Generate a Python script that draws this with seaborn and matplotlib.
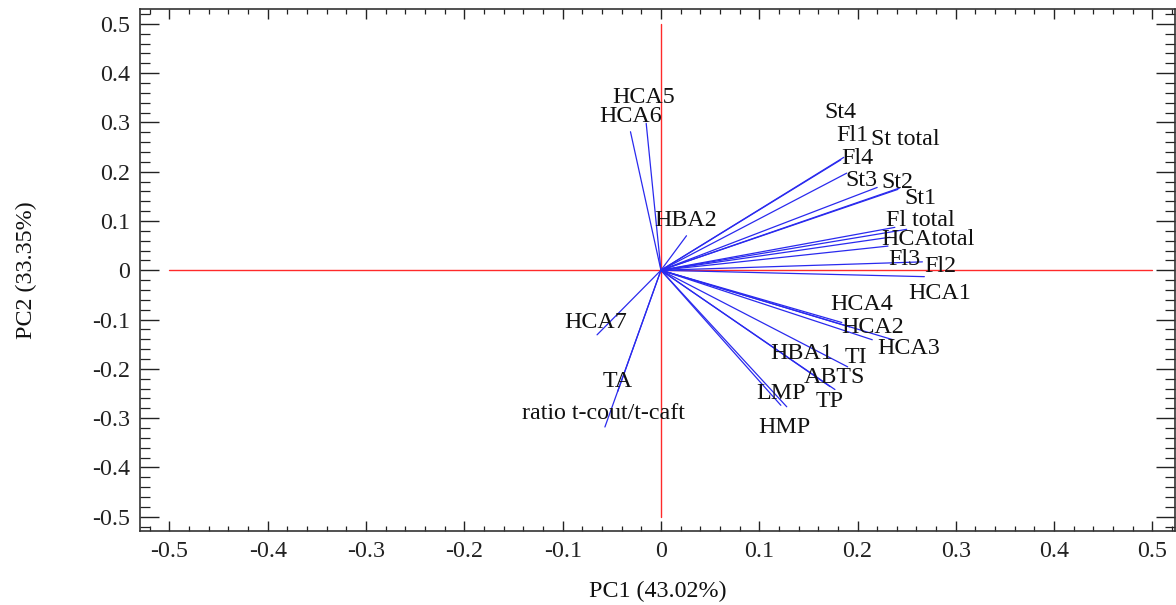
import matplotlib
matplotlib.use("Agg")
import matplotlib.pyplot as plt
import seaborn as sns
import pandas as pd
from matplotlib.ticker import MultipleLocator, FuncFormatter

# ---- data: loadings ----
variables = ["HCA5", "HCA6", "HBA2", "St4", "Fl1", "St total", "Fl4", "St3", "St2", "St1",
             "Fl total", "HCAtotal", "Fl3", "Fl2", "HCA1", "HCA4", "HCA2", "HCA3",
             "HBA1", "TI", "ABTS", "TP", "LMP", "HMP", "HCA7", "TA", "ratio t-cout/t-caft"]
pc1 = [-0.015, -0.031, 0.026, 0.186, 0.183, 0.243, 0.189, 0.220, 0.241, 0.238,
       0.250, 0.233, 0.231, 0.266, 0.268, 0.184, 0.215, 0.236,
       0.192, 0.190, 0.172, 0.177, 0.122, 0.128, -0.065, -0.044, -0.057]
pc2 = [0.298, 0.281, 0.070, 0.229, 0.224, 0.167, 0.197, 0.168, 0.164, 0.087,
       0.083, 0.067, 0.049, 0.017, -0.013, -0.106, -0.141, -0.141,
       -0.115, -0.196, -0.236, -0.242, -0.274, -0.277, -0.131, -0.246, -0.318]

# ---- layout: label anchor positions (data coords) ----
label_x = [-0.018, -0.031, 0.025, 0.183, 0.195, 0.249, 0.200, 0.204, 0.241, 0.264,
           0.264, 0.272, 0.248, 0.284, 0.284, 0.204, 0.215, 0.252,
           0.143, 0.198, 0.177, 0.172, 0.122, 0.126, -0.066, -0.044, -0.058]
label_y = [0.350, 0.311, 0.100, 0.321, 0.273, 0.265, 0.226, 0.183, 0.179, 0.145,
           0.100, 0.062, 0.021, 0.007, -0.048, -0.070, -0.117, -0.158,
           -0.168, -0.178, -0.217, -0.266, -0.250, -0.319, -0.105, -0.225, -0.290]

x_label = "PC1 (43.02%)"
y_label = "PC2 (33.35%)"

# ---- build long table: origin + tip per variable ----
rows = []
for v, a, b in zip(variables, pc1, pc2):
    rows.append({"var": v, "x": 0.0, "y": 0.0, "o": 0})
    rows.append({"var": v, "x": a, "y": b, "o": 1})
df = pd.DataFrame(rows)

sns.set_theme(style="ticks")
plt.rcParams["font.family"] = ["Liberation Serif", "DejaVu Serif"]
plt.rcParams["axes.unicode_minus"] = False
FS = 17.3

fig = plt.figure(figsize=(11.76, 6.05), dpi=100)
ax = fig.add_axes([140 / 1176, 1 - 531 / 605, (1175 - 140) / 1176, (531 - 9) / 605])

# red reference cross
ax.plot([-0.5, 0.5], [0, 0], color="#ff2a2a", lw=1.0, zorder=1)
ax.plot([0, 0], [-0.5, 0.5], color="#ff2a2a", lw=1.0, zorder=1)

sns.lineplot(data=df, x="x", y="y", units="var", estimator=None, sort=False,
             color="#2a2aee", lw=0.9, ax=ax, legend=False, zorder=2)

for v, lx, ly in zip(variables, label_x, label_y):
    ax.text(lx, ly, v, ha="center", va="center", fontsize=FS, color="#111111", zorder=3)

ax.set_xlim(-0.530, 0.523)
ax.set_ylim(-0.529, 0.530)

ax.xaxis.set_major_locator(MultipleLocator(0.1))
ax.xaxis.set_minor_locator(MultipleLocator(0.02))
ax.yaxis.set_major_locator(MultipleLocator(0.1))
ax.yaxis.set_minor_locator(MultipleLocator(0.02))
fmt = FuncFormatter(lambda v, p: f"{round(v, 2):g}" if abs(v) > 1e-9 else "0")
ax.xaxis.set_major_formatter(fmt)
ax.yaxis.set_major_formatter(fmt)

ax.tick_params(axis="x", which="both", direction="in", top=True, bottom=True,
               labelsize=FS, pad=7, colors="#222222")
ax.tick_params(axis="x", which="major", length=7.2, width=1.0)
ax.tick_params(axis="x", which="minor", length=3.6, width=0.9)
ax.tick_params(axis="y", which="both", direction="in", left=True, right=True,
               labelsize=FS, pad=7, colors="#222222")
ax.tick_params(axis="y", which="major", length=13.7, width=1.0)
ax.tick_params(axis="y", which="minor", length=7.2, width=0.9)

for s in ax.spines.values():
    s.set_color("#333333")
    s.set_linewidth(1.2)

ax.set_xlabel(x_label, fontsize=FS, labelpad=14, color="#111111")
ax.set_ylabel(y_label, fontsize=FS, labelpad=40, color="#111111")
ax.grid(False)

fig.savefig("out.png", dpi=100)
